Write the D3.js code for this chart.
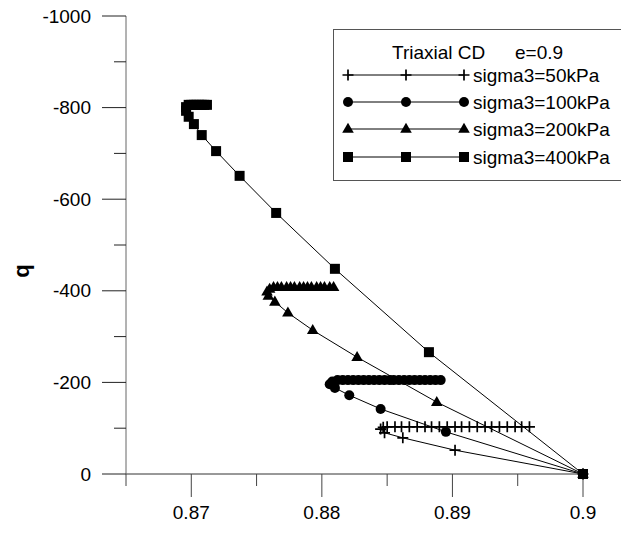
<!DOCTYPE html>
<html>
  <head>
    <meta charset="UTF-8" />
    <title>Triaxial CD e=0.9</title>
    <style>
      body,
      html {
        margin: 0;
        padding: 0;
        overflow: hidden;
        background: #fff;
      }
      svg text {
        font-family: "Liberation Sans", Arial, sans-serif;
        font-size: 19px;
        fill: #000;
      }
    </style>
  </head>
  <body>
    <svg id="chart"></svg>
    <script src="https://d3js.org/d3.v7.min.js"></script>
    <script>
      // values
      const xTicks = [0.87, 0.88, 0.89, 0.9];
      const yTicks = [0, -200, -400, -600, -800, -1000];

      const x50 = [0.9, 0.8902, 0.8862, 0.8848, 0.8845, 0.8847,
        0.885, 0.8856, 0.8861, 0.8867, 0.8873, 0.8879, 0.8884, 0.889, 0.8896, 0.8902,
        0.8907, 0.8913, 0.8919, 0.8925, 0.893, 0.8936, 0.8942, 0.8948, 0.8953, 0.8959];
      const y50 = [0, -52, -79, -90, -98, -102,
        -103, -103, -103, -103, -103, -103, -103, -103, -103, -103,
        -103, -103, -103, -103, -103, -103, -103, -103, -103, -103];

      const x100 = [0.9, 0.8895, 0.8845, 0.8821, 0.881, 0.8806, 0.8808,
        0.8812, 0.8816, 0.882, 0.8824, 0.8828, 0.8832, 0.8836, 0.884, 0.8844, 0.8848,
        0.8852, 0.8855, 0.8859, 0.8863, 0.8867, 0.8871, 0.8875, 0.8879, 0.8883, 0.8887, 0.8891];
      const y100 = [0, -92, -142, -172, -188, -196, -202,
        -205, -205, -205, -205, -205, -205, -205, -205, -205, -205,
        -205, -205, -205, -205, -205, -205, -205, -205, -205, -205, -205];

      const x200 = [0.9, 0.8888, 0.8827, 0.8793, 0.8774, 0.8764, 0.8759, 0.8758, 0.876,
        0.8763, 0.8766, 0.8769, 0.8773, 0.8776, 0.8779, 0.8783, 0.8786,
        0.8789, 0.8792, 0.8796, 0.8799, 0.8802, 0.8806, 0.8809];
      const y200 = [0, -157, -255, -314, -352, -376, -389, -398, -404,
        -408, -408, -408, -408, -408, -408, -408, -408,
        -408, -408, -408, -408, -408, -408, -408];

      const x400 = [0.9, 0.8882, 0.881, 0.8765, 0.8737, 0.8719, 0.8708, 0.8702, 0.8698, 0.8696, 0.8696,
        0.8698, 0.87, 0.8702, 0.8704, 0.8706, 0.8708, 0.871, 0.8712];
      const y400 = [0, -266, -448, -570, -651, -705, -740, -764, -780, -793, -801,
        -806, -806, -806, -806, -806, -806, -806, -806];

      const seriesNames = ["sigma3=50kPa", "sigma3=100kPa", "sigma3=200kPa", "sigma3=400kPa"];
      const seriesMarks = ["plus", "circle", "triangle", "square"];

      const width = 621;
      const height = 534;

      const svg = d3.select("#chart").attr("width", width).attr("height", height);

      const x = d3.scaleLinear().domain([0.865, 0.9]).range([126, 583]);
      const y = d3.scaleLinear().domain([0, -1000]).range([474, 16]);

      // axes
      const xAxis = svg.append("g").attr("transform", `translate(0,${y(0)})`);
      xAxis.append("line")
        .attr("x1", x(0.865)).attr("x2", x(0.9))
        .attr("stroke", "#333");
      xAxis.selectAll(".major")
        .data(xTicks)
        .enter()
        .append("line")
        .attr("x1", (d) => x(d)).attr("x2", (d) => x(d))
        .attr("y1", 0).attr("y2", 23)
        .attr("stroke", "#444");
      xAxis.selectAll(".minor")
        .data([0.865, 0.875, 0.885, 0.895])
        .enter()
        .append("line")
        .attr("x1", (d) => x(d)).attr("x2", (d) => x(d))
        .attr("y1", 0).attr("y2", 12)
        .attr("stroke", "#444");
      xAxis.selectAll("text")
        .data(xTicks)
        .enter()
        .append("text")
        .attr("x", (d) => x(d))
        .attr("y", 45)
        .attr("text-anchor", "middle")
        .text((d) => d);

      const yAxis = svg.append("g").attr("transform", `translate(${x(0.865)},0)`);
      yAxis.append("line")
        .attr("y1", y(0)).attr("y2", y(-1000))
        .attr("stroke", "#666");
      yAxis.selectAll(".major")
        .data(yTicks)
        .enter()
        .append("line")
        .attr("y1", (d) => y(d)).attr("y2", (d) => y(d))
        .attr("x1", -24).attr("x2", 0)
        .attr("stroke", "#222");
      yAxis.selectAll(".minor")
        .data([-100, -300, -500, -700, -900])
        .enter()
        .append("line")
        .attr("y1", (d) => y(d)).attr("y2", (d) => y(d))
        .attr("x1", -12).attr("x2", 0)
        .attr("stroke", "#222");
      yAxis.selectAll("text")
        .data(yTicks)
        .enter()
        .append("text")
        .attr("x", -35)
        .attr("y", (d) => y(d))
        .attr("dy", "0.35em")
        .attr("text-anchor", "end")
        .text((d) => d);

      svg.append("text")
        .attr("transform", "translate(29,271) rotate(-90)")
        .attr("text-anchor", "middle")
        .style("font-weight", "bold")
        .style("font-size", "22px")
        .text("q");

      // markers
      function drawMark(g, kind, cx, cy) {
        if (kind === "plus") {
          g.append("path")
            .attr("d", `M${cx - 5.5},${cy}H${cx + 5.5}M${cx},${cy - 5.5}V${cy + 5.5}`)
            .attr("stroke", "#000")
            .attr("stroke-width", 1.7);
        } else if (kind === "circle") {
          g.append("circle").attr("cx", cx).attr("cy", cy).attr("r", 5).attr("fill", "#000");
        } else if (kind === "triangle") {
          g.append("path")
            .attr("d", d3.symbol(d3.symbolTriangle, 58)())
            .attr("transform", `translate(${cx},${cy + 0.5})`)
            .attr("fill", "#000");
        } else {
          g.append("rect")
            .attr("x", cx - 5).attr("y", cy - 5)
            .attr("width", 10).attr("height", 10)
            .attr("fill", "#000");
        }
      }

      const line = d3.line().x((d) => x(d[0])).y((d) => y(d[1]));

      const allX = [x50, x100, x200, x400];
      const allY = [y50, y100, y200, y400];

      allX.forEach((xs, i) => {
        const pts = xs.map((v, j) => [v, allY[i][j]]);
        const g = svg.append("g");
        g.append("path")
          .attr("d", line(pts))
          .attr("fill", "none")
          .attr("stroke", "#000")
          .attr("stroke-width", 1);
        pts.forEach((p) => drawMark(g, seriesMarks[i], x(p[0]), y(p[1])));
      });

      // legend
      const legend = svg.append("g");
      legend.append("rect")
        .attr("x", 333.5).attr("y", 29.5)
        .attr("width", 300).attr("height", 151)
        .attr("fill", "#fff")
        .attr("stroke", "#555");
      legend.append("text").attr("x", 392).attr("y", 59).text("Triaxial CD");
      legend.append("text").attr("x", 515).attr("y", 59).text("e=0.9");

      const rowY = [75, 102, 129, 157];
      seriesNames.forEach((name, i) => {
        const g = legend.append("g");
        g.append("line")
          .attr("x1", 348).attr("x2", 464)
          .attr("y1", rowY[i]).attr("y2", rowY[i])
          .attr("stroke", "#000");
        [348, 406, 464].forEach((mx) => drawMark(g, seriesMarks[i], mx, rowY[i]));
        g.append("text")
          .attr("x", 473)
          .attr("y", rowY[i])
          .attr("dy", "0.35em")
          .text(name);
      });
    </script>
  </body>
</html>
